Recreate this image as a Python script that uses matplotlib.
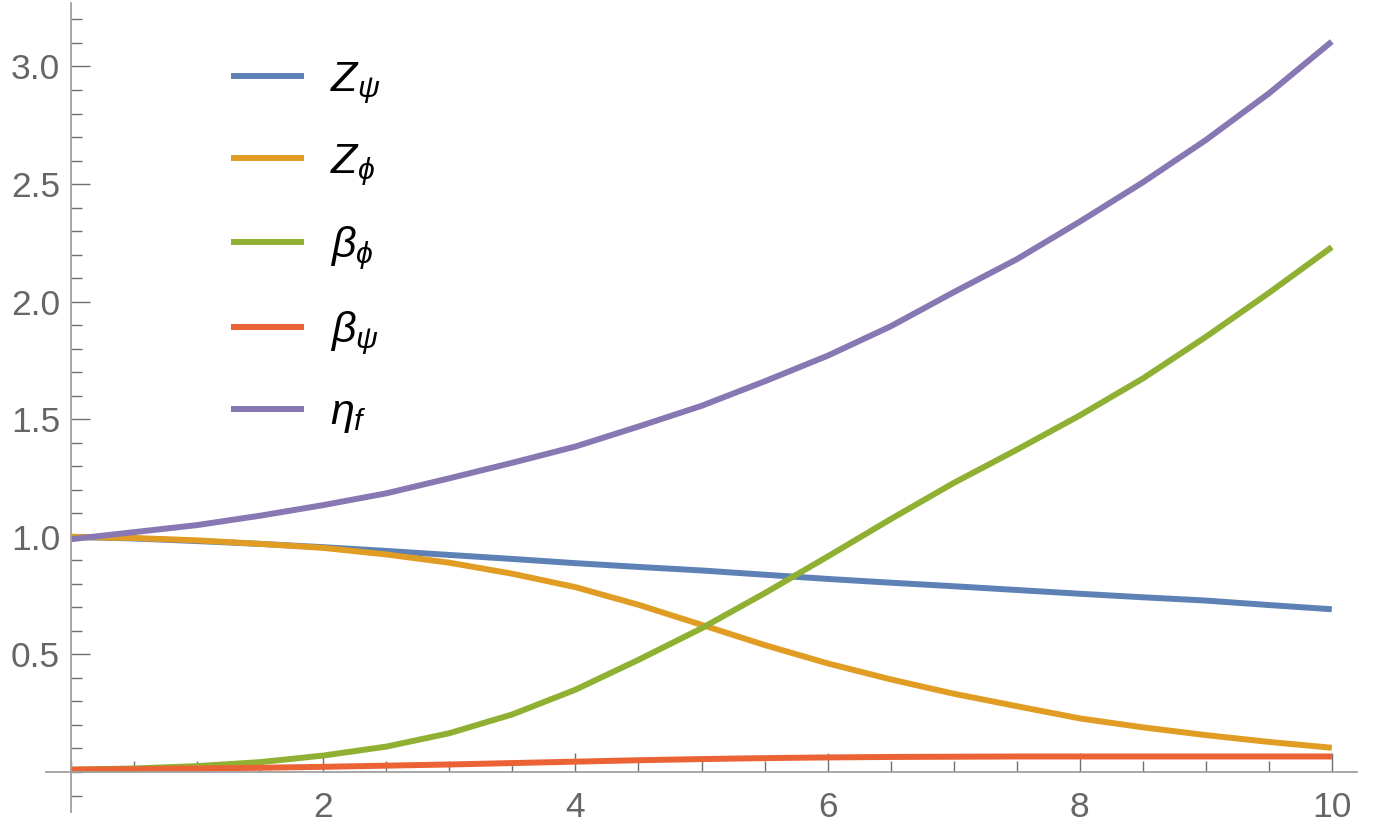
import matplotlib

matplotlib.use("Agg")
import matplotlib.pyplot as plt
from matplotlib.ticker import MultipleLocator, FixedLocator, FormatStrFormatter

# values, x every 0.5
x = [0.0, 0.5, 1.0, 1.5, 2.0, 2.5, 3.0, 3.5, 4.0, 4.5, 5.0,
     5.5, 6.0, 6.5, 7.0, 7.5, 8.0, 8.5, 9.0, 9.5, 10.0]
z_psi = [1.0, 0.993, 0.982, 0.97, 0.956, 0.94, 0.923, 0.906, 0.888, 0.872, 0.857,
         0.839, 0.821, 0.805, 0.79, 0.774, 0.758, 0.743, 0.729, 0.71, 0.692]
z_phi = [1.0, 0.995, 0.985, 0.97, 0.953, 0.925, 0.89, 0.843, 0.786, 0.711, 0.626,
         0.54, 0.462, 0.394, 0.333, 0.28, 0.228, 0.19, 0.157, 0.128, 0.103]
beta_phi = [0.01, 0.015, 0.025, 0.042, 0.07, 0.108, 0.165, 0.245, 0.35, 0.477, 0.611,
            0.76, 0.916, 1.075, 1.229, 1.37, 1.516, 1.673, 1.85, 2.037, 2.232]
beta_psi = [0.01, 0.012, 0.015, 0.018, 0.022, 0.027, 0.032, 0.038, 0.044, 0.05, 0.055,
            0.059, 0.062, 0.064, 0.065, 0.066, 0.066, 0.066, 0.066, 0.066, 0.066]
eta_f = [0.99, 1.02, 1.05, 1.09, 1.135, 1.185, 1.249, 1.315, 1.384, 1.469, 1.557,
         1.661, 1.77, 1.895, 2.04, 2.18, 2.34, 2.507, 2.687, 2.885, 3.106]

labels = [r"$Z_\psi$", r"$Z_\phi$", r"$\beta_\phi$", r"$\beta_\psi$", r"$\eta_f$"]
colors = ["#5E81B5", "#E19C24", "#8FB032", "#EB6235", "#8778B3"]

plt.rcParams["font.family"] = ["Liberation Sans", "DejaVu Sans"]
plt.rcParams["mathtext.fontset"] = "custom"
plt.rcParams["mathtext.it"] = "Liberation Sans:italic"
plt.rcParams["mathtext.rm"] = "Liberation Sans"

fig = plt.figure(figsize=(13.85, 8.34), dpi=100)
ax = fig.add_axes([0.0332, 0.0264, 0.9466, 0.97])

for ys, lab, c in zip([z_psi, z_phi, beta_phi, beta_psi, eta_f], labels, colors):
    ax.plot(x, ys, color=c, lw=4.3, label=lab, solid_capstyle="butt",
            solid_joinstyle="round")

ax.set_xlim(-0.2, 10.2)
ax.set_ylim(-0.17, 3.27)

# Mathematica-style axes through the origin
for side in ("top", "right"):
    ax.spines[side].set_visible(False)
for side in ("left", "bottom"):
    ax.spines[side].set_position(("data", 0))
    ax.spines[side].set_color("#a0a0a0")
    ax.spines[side].set_linewidth(1.3)

ax.xaxis.set_major_locator(FixedLocator([2, 4, 6, 8, 10]))
ax.xaxis.set_minor_locator(MultipleLocator(0.5))
ax.yaxis.set_major_locator(FixedLocator([0.5, 1.0, 1.5, 2.0, 2.5, 3.0]))
ax.yaxis.set_minor_locator(MultipleLocator(0.1))
ax.yaxis.set_major_formatter(FormatStrFormatter("%.1f"))

ax.tick_params(which="both", direction="in", color="#707070", width=1.0,
               labelcolor="#666666", labelsize=25.5)
ax.tick_params(which="major", length=14)
ax.tick_params(which="minor", length=8)
ax.tick_params(axis="x", which="major", pad=14)
ax.tick_params(axis="y", which="major", pad=8)

ax.legend(loc="upper left", bbox_to_anchor=(0.128, 0.951), frameon=False,
          fontsize=31, handlelength=1.7, handletextpad=0.6, labelspacing=0.85,
          borderaxespad=0)

fig.savefig("out.png", dpi=100)
